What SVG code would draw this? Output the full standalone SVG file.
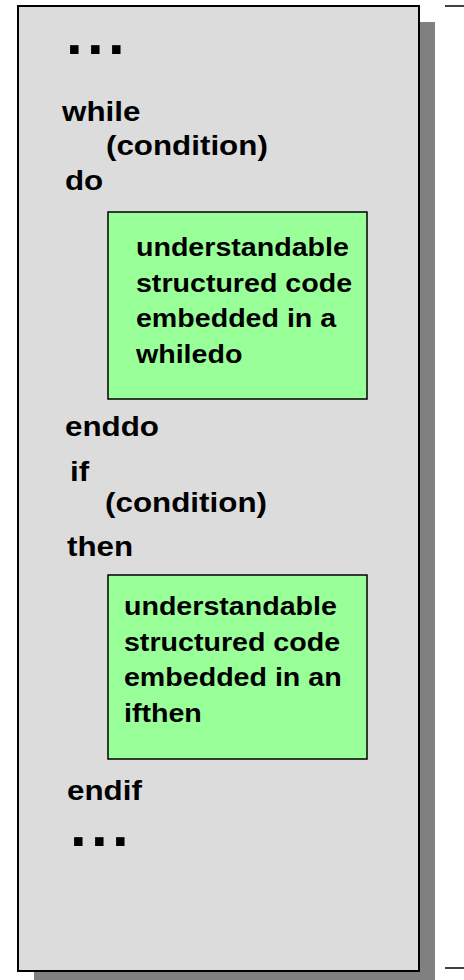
<svg xmlns="http://www.w3.org/2000/svg" width="464" height="980" viewBox="0 0 464 980">
  <style>
    .lbl { font-family: "Liberation Sans", Arial, sans-serif; font-weight: bold; font-size: 28px; fill: #000; }
    .box-lbl { font-family: "Liberation Sans", Arial, sans-serif; font-weight: bold; font-size: 26px; fill: #000; }
    .dots { font-family: "Liberation Sans", Arial, sans-serif; font-weight: bold; font-size: 60px; letter-spacing: 4.3px; fill: #000; }
    .panel { fill: #dcdcdc; stroke: #000; stroke-width: 2; }
    .shadow { fill: #808080; }
    .block { fill: #99ff99; stroke: #000; stroke-width: 1.5; }
    .rule { stroke: #000; stroke-width: 1.5; }
  </style>

  <!-- page background -->
  <rect x="0" y="0" width="464" height="980" fill="#ffffff"/>

  <!-- code panel with drop shadow -->
  <g id="panel">
    <rect class="shadow" x="34" y="22" width="401" height="958"/>
    <rect class="panel" x="18" y="6" width="401" height="965"/>
  </g>

  <!-- short rules at the right edge -->
  <g id="edge-rules">
    <line class="rule" x1="445" y1="6" x2="464" y2="6"/>
    <line class="rule" x1="445" y1="968" x2="464" y2="968"/>
  </g>

  <!-- keywords of the pseudo-code -->
  <g id="code-lines">
    <text class="dots" x="66" y="54">...</text>
    <g transform="scale(1.12,1)">
      <text class="lbl" x="55.4" y="121">while</text>
      <text class="lbl" x="94.6" y="155">(condition)</text>
      <text class="lbl" x="58" y="190">do</text>
      <text class="lbl" x="58" y="436">enddo</text>
      <text class="lbl" x="62.5" y="481">if</text>
      <text class="lbl" x="93.8" y="512">(condition)</text>
      <text class="lbl" x="59.8" y="556">then</text>
      <text class="lbl" x="59.8" y="800">endif</text>
    </g>
    <text class="dots" x="70" y="846">...</text>
  </g>

  <!-- body of the while loop -->
  <g id="while-body">
    <rect class="block" x="108" y="212" width="259" height="187"/>
    <g transform="scale(1.1,1)">
      <text class="box-lbl" x="123.6" y="256">understandable</text>
      <text class="box-lbl" x="123.6" y="292">structured code</text>
      <text class="box-lbl" x="123.6" y="327">embedded in a</text>
      <text class="box-lbl" x="123.6" y="363">whiledo</text>
    </g>
  </g>

  <!-- body of the if statement -->
  <g id="if-body">
    <rect class="block" x="108" y="575" width="259" height="184"/>
    <g transform="scale(1.1,1)">
      <text class="box-lbl" x="112.7" y="615">understandable</text>
      <text class="box-lbl" x="112.7" y="651">structured code</text>
      <text class="box-lbl" x="112.7" y="686">embedded in an</text>
      <text class="box-lbl" x="112.7" y="722">ifthen</text>
    </g>
  </g>
</svg>
